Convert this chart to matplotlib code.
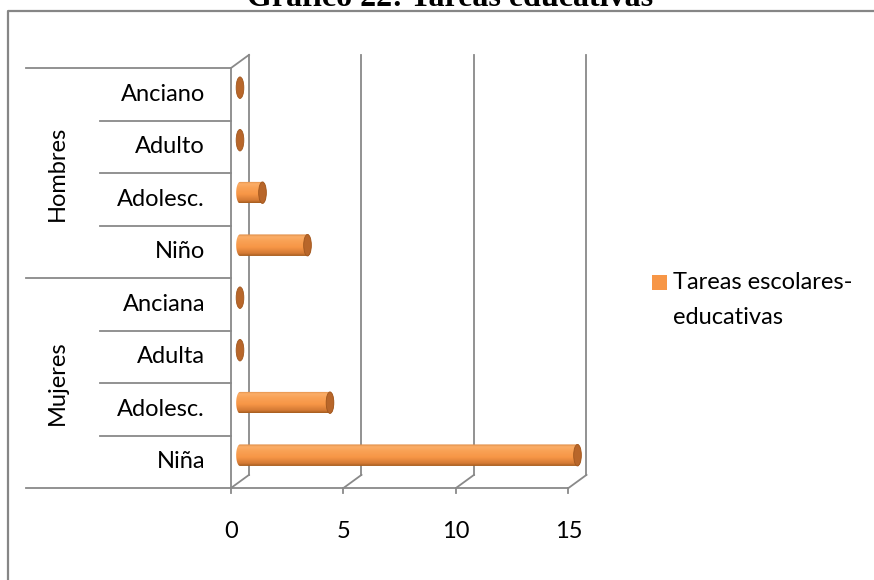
import numpy as np
import matplotlib.pyplot as plt
from matplotlib.patches import Ellipse, PathPatch, Rectangle
from matplotlib.path import Path
from matplotlib.lines import Line2D
from matplotlib.colors import LinearSegmentedColormap

# categorias de abajo hacia arriba
categorias = ['Niña', 'Adolesc.', 'Adulta', 'Anciana', 'Niño', 'Adolesc.', 'Adulto', 'Anciano']
grupos = ['Mujeres', 'Hombres']
tareas = [15, 4, 0, 0, 3, 1, 0, 0]
serie = 'Tareas escolares-\neducativas'
ticks = [0, 5, 10, 15]
titulo = 'Gráfico 22: Tareas educativas'

plt.rcParams['font.family'] = ['Lato', 'DejaVu Sans']
fs = 17

W, H = 874, 580
fig = plt.figure(figsize=(W / 100, H / 100), dpi=100)
ax = fig.add_axes([231 / W, 1 - 488 / H, 337.5 / W, 420 / H])
n = len(categorias)
ax.set_xlim(0, 15)
ax.set_ylim(0, n)
ax.axis('off')

gris = '#898989'
lw = 1.3
DX, DY = 0.8, 0.25   # profundidad del efecto 3D (unidades de datos)

# paredes y suelo
ax.plot([0, 0], [0, n], color=gris, lw=lw, clip_on=False)
ax.plot([0, DX], [n, n + DY], color=gris, lw=lw, clip_on=False)
ax.plot([0, 15], [0, 0], color=gris, lw=lw, clip_on=False)
for t in ticks:
    ax.plot([t, t + DX], [0, DY], color=gris, lw=lw, clip_on=False)
    ax.plot([t + DX, t + DX], [DY, n + DY], color=gris, lw=lw, clip_on=False, zorder=1)
    ax.plot([t, t], [0, -0.1], color=gris, lw=lw, clip_on=False)
    ax.text(t, -0.83, str(t), ha='center', va='center', fontsize=fs)

# tabla de categorias a la izquierda
ytr = ax.get_yaxis_transform()
for i in range(n + 1):
    x0 = -0.607 if i % 4 == 0 else -0.388
    ax.plot([x0, 0], [i, i], color=gris, lw=lw, transform=ytr, clip_on=False)
for i, c in enumerate(categorias):
    ax.text(-0.077, i + 0.5, c, ha='right', va='center', fontsize=fs, transform=ytr)
for g, nombre in enumerate(grupos):
    ax.text(-0.513, g * 4 + 2, nombre, ha='center', va='center', rotation=90,
            fontsize=fs, transform=ytr)

# barras cilindricas
cmap = LinearSegmentedColormap.from_list('naranja', [
    (0.0, '#A55C1E'), (0.12, '#D47A35'), (0.4, '#F79646'),
    (0.7, '#F9A256'), (0.88, '#FBAE68'), (1.0, '#DE8A45')])
grad = np.linspace(0, 1, 64).reshape(-1, 1)
h = 0.41
rx = 0.17
th = np.linspace(np.pi / 2, 3 * np.pi / 2, 30)
for i, v in enumerate(tareas):
    yc = i + 0.5 + DY / 2
    x0 = DX / 2
    x1 = x0 + v
    if v > 0:
        left = np.column_stack([x0 + rx * np.cos(th), yc + h / 2 * np.sin(th)])
        right = np.column_stack([x1 - rx * np.cos(th), yc - h / 2 * np.sin(th)])
        verts = np.vstack([left, right, left[:1]])
        patch = PathPatch(Path(verts), facecolor='none', edgecolor='none', clip_on=False)
        ax.add_patch(patch)
        im = ax.imshow(grad, cmap=cmap, origin='lower', aspect='auto', zorder=3,
                       extent=[x0 - rx, x1 + rx, yc - h / 2, yc + h / 2])
        im.set_clip_path(patch)
        im.set_clip_box(fig.bbox)
    ax.add_patch(Ellipse((x1, yc), 2 * rx, h, facecolor='#B8662A',
                         edgecolor='#A0561D', lw=0.6, zorder=4, clip_on=False))
ax.set_xlim(0, 15)
ax.set_ylim(0, n)

# leyenda
fig.add_artist(Rectangle((652 / W, 1 - 290 / H), 15 / W, 15 / H,
                         facecolor='#F79646', edgecolor='none',
                         transform=fig.transFigure))
fig.text(673 / W, 1 - 300 / H, serie, ha='left', va='center', fontsize=fs,
         linespacing=1.8)

# marco exterior y titulo
fig.add_artist(Line2D([8 / W, 8 / W, 1], [0, 1 - 11 / H, 1 - 11 / H],
                      color='#868686', lw=1.6, transform=fig.transFigure))
fig.text(450 / W, 1 - 6 / H, titulo, ha='center', va='baseline',
         family='Liberation Serif', fontweight='bold', fontsize=23)

fig.savefig('out.png', dpi=100)
